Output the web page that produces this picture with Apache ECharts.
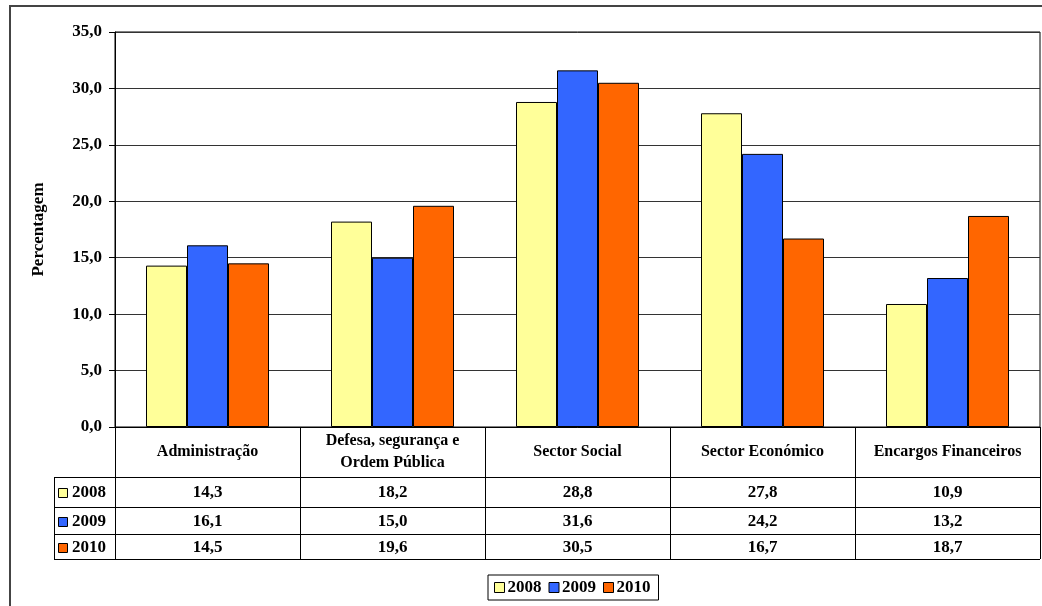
<!DOCTYPE html>
<html>
<head>
<meta charset="utf-8">
<script src="https://cdn.jsdelivr.net/npm/echarts@6/dist/echarts.min.js"></script>
<style>
  html, body { margin: 0; padding: 0; background: #fff; }
  #chart { width: 1042px; height: 606px; }
</style>
</head>
<body>
<div id="chart"></div>
<script>
// Despesa por função (%), 2008–2010
const categories = ['Administração', 'Defesa, segurança e\nOrdem Pública', 'Sector Social', 'Sector Económico', 'Encargos Financeiros'];
const years = ['2008', '2009', '2010'];
const values2008 = [14.3, 18.2, 28.8, 27.8, 10.9];
const values2009 = [16.1, 15.0, 31.6, 24.2, 13.2];
const values2010 = [14.5, 19.6, 30.5, 16.7, 18.7];
const yTicks = { min: 0, max: 35, interval: 5 };

const colors = ['#FFFF99', '#3366FF', '#FF6600'];
const seriesValues = [values2008, values2009, values2010];
const FONT = '"Liberation Serif", "Times New Roman", serif';
const fmt = v => v.toFixed(1).replace('.', ',');

// grid geometry
const G = { left: 115, top: 32, right: 2, height: 395 };
const plotRight = 1042 - G.right;
const plotBottom = G.top + G.height;
const tableLeft = 54;
const rowLines = [477, 507, 534, 559];

const chart = echarts.init(document.getElementById('chart'), null, { renderer: 'canvas' });

chart.setOption({
  animation: false,
  color: colors,
  textStyle: { fontFamily: FONT },
  grid: { left: G.left, top: G.top, right: G.right, height: G.height, containLabel: false,
          show: true, borderColor: '#000', borderWidth: 1 },
  legend: {
    data: years,
    left: 488, top: 575,
    orient: 'horizontal',
    itemWidth: 10, itemHeight: 10, itemGap: 7,
    icon: 'rect',
    padding: [4, 8, 4, 6],
    borderColor: '#000', borderWidth: 1,
    textStyle: { fontFamily: FONT, fontSize: 17, fontWeight: 'bold', color: '#000', padding: [2, 0, 0, -2] },
    itemStyle: { borderColor: '#000', borderWidth: 1 }
  },
  xAxis: {
    type: 'category',
    data: categories,
    axisLine: { show: true, lineStyle: { color: '#000', width: 1 } },
    axisTick: { show: false },
    axisLabel: {
      interval: 0, margin: 25, verticalAlign: 'middle',
      fontFamily: FONT, fontSize: 16, fontWeight: 'bold', color: '#000', lineHeight: 22
    },
    splitLine: { show: false }
  },
  yAxis: {
    type: 'value',
    min: yTicks.min, max: yTicks.max, interval: yTicks.interval,
    name: 'Percentagem',
    nameLocation: 'middle', nameRotate: 90, nameGap: 68,
    nameTextStyle: { fontFamily: FONT, fontSize: 17, fontWeight: 'bold', color: '#000' },
    axisLine: { show: true, lineStyle: { color: '#000', width: 1 } },
    axisTick: { show: true, inside: false, length: 6, lineStyle: { color: '#000' } },
    axisLabel: { margin: 13, formatter: v => fmt(v), fontFamily: FONT, fontSize: 17, fontWeight: 'bold', color: '#000' },
    splitLine: { show: true, lineStyle: { color: '#333', width: 1 } }
  },
  series: years.map((y, i) => ({
    name: y,
    type: 'bar',
    data: seriesValues[i],
    barWidth: 41,
    barGap: '0%',
    itemStyle: { color: colors[i], borderColor: '#000', borderWidth: 1 }
  }))
});

// data table under the plot
function buildTable() {
  const els = [];
  const line = (x1, y1, x2, y2) => els.push({
    type: 'line', silent: true,
    shape: { x1, y1, x2, y2 },
    style: { stroke: '#000', lineWidth: 1 }
  });
  // outer frame of the chart area
  els.push({ type: 'polyline', silent: true,
    shape: { points: [[10, 606], [10, 6], [1042, 6]] },
    style: { stroke: '#444', lineWidth: 2, fill: null } });

  const catW = (plotRight - G.left) / categories.length;
  // column separators
  for (let i = 0; i <= categories.length; i++) {
    const x = Math.round(G.left + i * catW) + 0.5;
    line(x, plotBottom, x, rowLines[rowLines.length - 1]);
  }
  line(tableLeft + 0.5, rowLines[0], tableLeft + 0.5, rowLines[rowLines.length - 1]);
  rowLines.forEach(y => line(tableLeft, y + 0.5, plotRight, y + 0.5));

  years.forEach((yr, r) => {
    const yc = (rowLines[r] + rowLines[r + 1]) / 2 + 1;
    els.push({ type: 'rect', silent: true,
      shape: { x: 58.5, y: Math.round(yc - 5) + 0.5, width: 9, height: 9 },
      style: { fill: colors[r], stroke: '#000', lineWidth: 1 } });
    els.push({ type: 'text', silent: true,
      style: { x: 72, y: yc, text: yr, fill: '#000', font: 'bold 17px ' + FONT,
               textAlign: 'left', textVerticalAlign: 'middle' } });
    seriesValues[r].forEach((v, c) => {
      const xc = chart.convertToPixel({ xAxisIndex: 0 }, c);
      els.push({ type: 'text', silent: true,
        style: { x: xc, y: yc, text: fmt(v), fill: '#000', font: 'bold 17px ' + FONT,
                 textAlign: 'center', textVerticalAlign: 'middle' } });
    });
  });
  return els;
}

chart.setOption({ graphic: { elements: buildTable() } });
</script>
</body>
</html>
